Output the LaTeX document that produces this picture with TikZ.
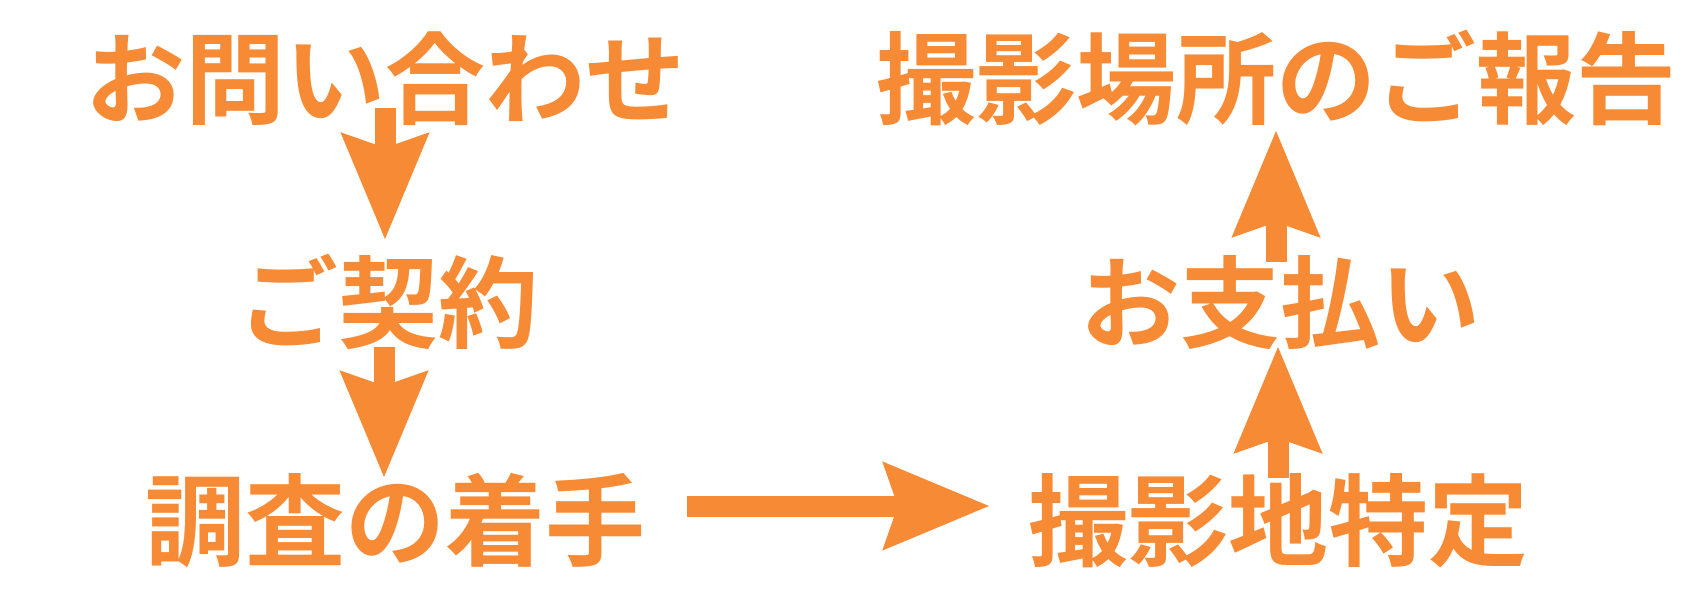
\documentclass[tikz,border=0pt]{standalone}
\usepackage{fontspec}
\newfontfamily\jp{Noto Sans CJK JP}[UprightFont={* Bold}]
\usetikzlibrary{arrows.meta}
\definecolor{flow}{RGB}{246,138,53}
\tikzset{
  label/.style={font=\jp\fontsize{50pt}{50pt}\selectfont, text=flow, inner sep=0pt, anchor=base},
  flowarrow/.style={draw=flow, line width=10.5pt, -{Stealth[length=52.5pt, width=42pt, inset=6.5pt, fill=flow]}}
}
\begin{document}
\begin{tikzpicture}[x=0.5pt,y=-0.5pt]
\useasboundingbox (0,0) rectangle (1700,600);
\node[label] (t1) at (385,116) {お問い合わせ};
\node[label] (t2) at (388,340) {ご契約};
\node[label] (t3) at (395,558) {調査の着手};
\node[label] (t4) at (1278,558) {撮影地特定};
\node[label] (t5) at (1280,340) {お支払い};
\node[label] (t6) at (1276,116) {撮影場所のご報告};
\coordinate (a1s) at (385,108);
\coordinate (a1e) at (385,240);
\coordinate (a2s) at (384,347);
\coordinate (a2e) at (384,478);
\coordinate (a3s) at (687,506);
\coordinate (a3e) at (990,506);
\coordinate (a4s) at (1278,478);
\coordinate (a4e) at (1278,346);
\coordinate (a5s) at (1276,262);
\coordinate (a5e) at (1276,130);
\draw[flowarrow] (a1s) -- (a1e);
\draw[flowarrow] (a2s) -- (a2e);
\draw[flowarrow] (a3s) -- (a3e);
\draw[flowarrow] (a4s) -- (a4e);
\draw[flowarrow] (a5s) -- (a5e);
\end{tikzpicture}
\end{document}
